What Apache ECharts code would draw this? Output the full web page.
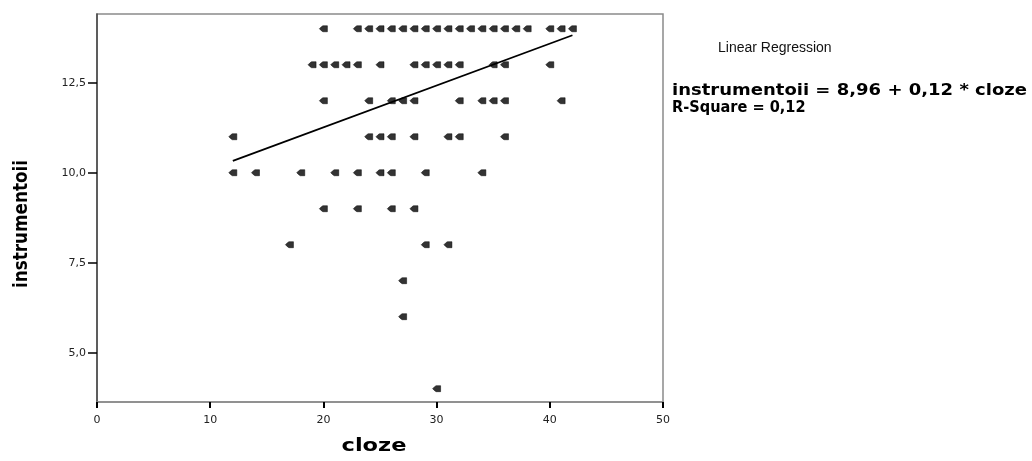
<!DOCTYPE html>
<html>
<head>
<meta charset="utf-8">
<script src="https://cdn.jsdelivr.net/npm/echarts@6/dist/echarts.min.js"></script>
<style>
html,body{margin:0;padding:0;background:#fff;}
#chart{width:1032px;height:461px;}
</style>
</head>
<body>
<div id="chart"></div>
<script>
// ---- data ----
const instrumentLevels = [14, 13, 12, 11, 10, 9, 8, 7, 6, 4];
const clozeAtLevel = [
  [20, 23, 24, 25, 26, 27, 28, 29, 30, 31, 32, 33, 34, 35, 36, 37, 38, 40, 41, 42],
  [19, 20, 21, 22, 23, 25, 28, 29, 30, 31, 32, 35, 36, 40],
  [20, 24, 26, 27, 28, 32, 34, 35, 36, 41],
  [12, 24, 25, 26, 28, 31, 32, 36],
  [12, 14, 18, 21, 23, 25, 26, 29, 34],
  [20, 23, 26, 28],
  [17, 29, 31],
  [27],
  [27],
  [30]
];
const fitCloze = [12, 42];
const fitInstrument = [10.33, 13.82];
const xTicks = [0, 10, 20, 30, 40, 50];
const yTicks = [5, 7.5, 10, 12.5];
const xTitle = 'cloze';
const yTitle = 'instrumentoii';
const legendTitle = 'Linear Regression';
const equationText = 'instrumentoii = 8,96 + 0,12 * cloze';
const rSquareText = 'R-Square = 0,12';

const points = [];
instrumentLevels.forEach((lv, i) => clozeAtLevel[i].forEach(c => points.push([c, lv])));
const fitLine = fitCloze.map((c, i) => [c, fitInstrument[i]]);

const chart = echarts.init(document.getElementById('chart'), null, {renderer: 'canvas'});
const tickFont = {fontFamily: 'DejaVu Sans', fontSize: 11, color: '#222'};
chart.setOption({
  animation: false,
  backgroundColor: '#fff',
  grid: {left: 97, top: 14, right: 369, bottom: 59, show: true, borderColor: '#8a8a8a', borderWidth: 1.5, backgroundColor: 'transparent'},
  xAxis: {
    type: 'value', min: 0, max: 50, interval: 10,
    axisLine: {show: true, lineStyle: {color: '#8a8a8a', width: 1.5}},
    axisTick: {show: true, length: 6, inside: false, lineStyle: {color: '#000', width: 2}},
    axisLabel: Object.assign({margin: 13, formatter: v => String(v)}, tickFont),
    splitLine: {show: false}
  },
  yAxis: {
    type: 'value', min: 3.63, max: 14.41,
    axisLine: {show: true, onZero: false, lineStyle: {color: '#444', width: 1.5}},
    axisTick: {show: true, length: 9, customValues: yTicks, lineStyle: {color: '#000', width: 1.5}},
    axisLabel: Object.assign({margin: 11, customValues: yTicks, formatter: v => v.toFixed(1).replace('.', ',')}, tickFont),
    splitLine: {show: false}
  },
  series: [
    {
      type: 'scatter', data: points,
      symbol: 'path://M0,3 L2,1 L3.5,0 L8,0 L8,6 L3.5,6 L2,5 Z', symbolSize: [8, 6],
      itemStyle: {color: '#000', borderColor: '#000', borderWidth: 0.6}, z: 3
    },
    {
      type: 'line', data: fitLine, symbol: 'none',
      lineStyle: {color: '#000', width: 1.8}, z: 4
    }
  ],
  graphic: [
    {type: 'text', x: 22, y: 224, rotation: Math.PI / 2, scaleX: 0.84,
     style: {text: yTitle, font: 'bold 20px "DejaVu Sans", sans-serif', fill: '#000', align: 'center', verticalAlign: 'middle'}},
    {type: 'text', x: 374, y: 446, scaleX: 1.25,
     style: {text: xTitle, font: 'bold 18px "DejaVu Sans", sans-serif', fill: '#000', align: 'center', verticalAlign: 'middle'}},
    {type: 'text', x: 718, y: 48,
     style: {text: legendTitle, font: '14px "Liberation Sans", Arial, sans-serif', fill: '#111', align: 'left', verticalAlign: 'middle'}},
    {type: 'text', x: 672, y: 91, scaleX: 1.2,
     style: {text: equationText, font: 'bold 15px "DejaVu Sans", sans-serif', fill: '#000', align: 'left', verticalAlign: 'middle'}},
    {type: 'text', x: 672, y: 108, scaleX: 0.97,
     style: {text: rSquareText, font: 'bold 15px "DejaVu Sans", sans-serif', fill: '#000', align: 'left', verticalAlign: 'middle'}}
  ]
});
</script>
</body>
</html>
